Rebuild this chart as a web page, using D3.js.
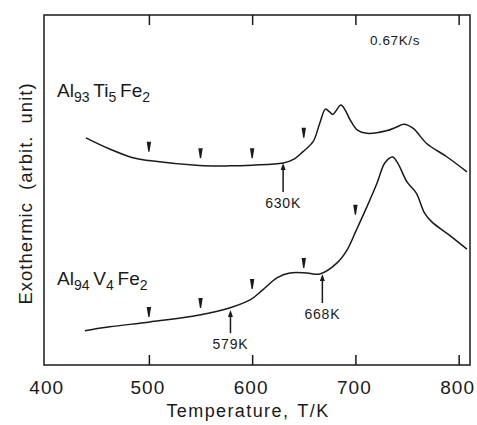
<!DOCTYPE html>
<html>
<head>
<meta charset="utf-8">
<script src="https://cdn.jsdelivr.net/npm/d3@7"></script>
<style>
  body { margin: 0; background: #fff; }
  text { font-family: "Liberation Sans", Arial, sans-serif; fill: #1a1a1a; }
</style>
</head>
<body>
<div id="chart"></div>
<script>
// temperature (K) and exothermic signal (arbit. unit, 0-100 over the frame)
var tiTemp = [439, 462, 484.5, 500, 549, 578, 600, 630, 641, 649, 659, 665.5, 671, 675, 678, 686, 690, 695, 702, 711, 730, 740, 747, 756, 769, 788.5, 808];
var tiSignal = [64.9, 61.7, 59.2, 58.4, 57.0, 56.9, 57.1, 57.7, 58.9, 60.9, 63.8, 69.1, 73.1, 72.3, 71.6, 74.3, 72.9, 70.0, 67.1, 66.2, 66.9, 68.0, 68.8, 67.6, 63.3, 59.5, 55.2];

var vTemp = [438, 462, 501, 549, 578, 598, 610, 624, 636.5, 653, 665.5, 682, 692, 701, 711, 721, 728.5, 736, 741, 750, 759, 767, 774, 791, 808];
var vSignal = [9.8, 10.9, 12.3, 14.3, 16.3, 18.6, 21.4, 24.9, 26.3, 26.3, 26.0, 29.1, 32.9, 38.6, 45.1, 52.0, 57.7, 59.4, 57.7, 52.3, 49.1, 43.4, 40.9, 37.1, 33.1];

// small wedge markers above the curves
var tiMarkTemp = [500, 550, 600, 650];
var tiMarkSignal = [60.9, 59.1, 59.1, 64.9];
var vMarkTemp = [500, 550, 600, 650, 700];
var vMarkSignal = [13.7, 16.3, 21.7, 27.7, 42.9];

// onset arrows: label, temperature, tip and tail level
var arrowLabels = ["630K", "579K", "668K"];
var arrowTemp = [630, 579, 668];
var arrowTip = [57.7, 15.7, 26.0];
var arrowTail = [49.4, 9.1, 17.7];

var xTicks = [400, 500, 600, 700, 800];

var margin = {top: 15, right: 7, bottom: 60, left: 44},
    width = 477 - margin.left - margin.right,
    height = 425 - margin.top - margin.bottom;

var svg = d3.select("#chart")
    .append("svg")
        .attr("width", 477)
        .attr("height", 425)
    .append("g")
        .attr("transform", "translate(" + margin.left + "," + margin.top + ")");

var x = d3.scaleLinear()
        .domain([398.4, 811])
        .range([0, width]);

var y = d3.scaleLinear()
        .domain([0, 100])
        .range([height, 0]);

// frame
svg.append("rect")
    .attr("width", width)
    .attr("height", height)
    .attr("fill", "none")
    .attr("stroke", "#1a1a1a")
    .attr("stroke-width", 1.5);

// inward ticks on bottom and top
var inner = xTicks.filter(function(d) { return d > 400; });

svg.append("g")
    .attr("transform", "translate(0," + height + ")")
    .call(d3.axisTop(x).tickValues(inner).tickSize(10).tickFormat(""))
    .call(function(g) { g.select(".domain").remove(); })
    .selectAll("line").attr("stroke", "#1a1a1a").attr("stroke-width", 1.5);

svg.append("g")
    .call(d3.axisBottom(x).tickValues(inner).tickSize(10).tickFormat(""))
    .call(function(g) { g.select(".domain").remove(); })
    .selectAll("line").attr("stroke", "#1a1a1a").attr("stroke-width", 1.5);

svg.selectAll(".xlab")
    .data(xTicks)
  .enter().append("text")
    .attr("class", "xlab")
    .attr("x", function(d) { return x(d) + (d == 400 ? 1 : -1); })
    .attr("y", height + 29)
    .attr("text-anchor", "middle")
    .style("font-size", "19px")
    .style("letter-spacing", "1px")
    .text(function(d) { return d; });

svg.append("text")
    .attr("x", x(596))
    .attr("y", height + 52)
    .attr("text-anchor", "middle")
    .style("font-size", "18px")
    .style("letter-spacing", "1.4px")
    .style("word-spacing", "2px")
    .text("Temperature, T/K");

svg.append("text")
    .attr("transform", "translate(" + (32 - margin.left) + "," + y(49) + ") rotate(-90)")
    .attr("text-anchor", "middle")
    .style("font-size", "18.5px")
    .style("letter-spacing", "1px")
    .style("word-spacing", "6px")
    .text("Exothermic (arbit. unit)");

// curves
var line = d3.line()
    .x(function(d) { return x(d[0]); })
    .y(function(d) { return y(d[1]); })
    .curve(d3.curveCatmullRom.alpha(0.5));

var curves = [
    d3.zip(tiTemp, tiSignal),
    d3.zip(vTemp, vSignal)
];

svg.selectAll(".curve")
    .data(curves)
  .enter().append("path")
    .attr("class", "curve")
    .attr("d", line)
    .attr("fill", "none")
    .attr("stroke", "#1a1a1a")
    .attr("stroke-width", 1.5);

// wedge markers (tip at the given point)
var marks = d3.zip(tiMarkTemp, tiMarkSignal).concat(d3.zip(vMarkTemp, vMarkSignal));

svg.selectAll(".mark")
    .data(marks)
  .enter().append("path")
    .attr("class", "mark")
    .attr("d", function(d) {
        var px = x(d[0]), py = y(d[1]);
        return "M" + (px - 2.2) + "," + (py - 10) + "L" + (px + 2.2) + "," + (py - 10) +
               "L" + (px + 0.6) + "," + py + "L" + (px - 0.6) + "," + py + "Z";
    })
    .attr("fill", "#1a1a1a");

// onset arrows
var arrows = d3.zip(arrowLabels, arrowTemp, arrowTip, arrowTail);

var ag = svg.selectAll(".arrow")
    .data(arrows)
  .enter().append("g")
    .attr("class", "arrow");

ag.append("line")
    .attr("x1", function(d) { return x(d[1]); })
    .attr("x2", function(d) { return x(d[1]); })
    .attr("y1", function(d) { return y(d[3]); })
    .attr("y2", function(d) { return y(d[2]) + 5; })
    .attr("stroke", "#1a1a1a")
    .attr("stroke-width", 1.5);

ag.append("path")
    .attr("d", function(d) {
        var px = x(d[1]), py = y(d[2]);
        return "M" + px + "," + py + "L" + (px - 2.5) + "," + (py + 7) + "L" + (px + 2.5) + "," + (py + 7) + "Z";
    })
    .attr("fill", "#1a1a1a");

ag.append("text")
    .attr("x", function(d) { return x(d[1]); })
    .attr("y", function(d) { return y(d[3]) + 16; })
    .attr("text-anchor", "middle")
    .style("font-size", "14px")
    .style("letter-spacing", "0.8px")
    .text(function(d) { return d[0]; });

// labels
svg.append("text")
    .attr("x", 370 - margin.left)
    .attr("y", 45 - margin.top)
    .style("font-size", "13.5px")
    .style("letter-spacing", "0.6px")
    .text("0.67K/s");

function formula(g, parts, px, py) {
    var t = g.append("text")
        .attr("x", px)
        .attr("y", py)
        .style("font-size", "19px");
    parts.forEach(function(p) {
        t.append("tspan").text(p[0]);
        t.append("tspan")
            .attr("dy", 5)
            .style("font-size", "14px")
            .text(p[1]);
        t.append("tspan").attr("dy", -5).text("\u2009");
    });
}

formula(svg, [["Al", "93"], ["Ti", "5"], ["Fe", "2"]], 57 - margin.left, 97 - margin.top);
formula(svg, [["Al", "94"], ["V", "4"], ["Fe", "2"]], 57 - margin.left, 285 - margin.top);
</script>
</body>
</html>
